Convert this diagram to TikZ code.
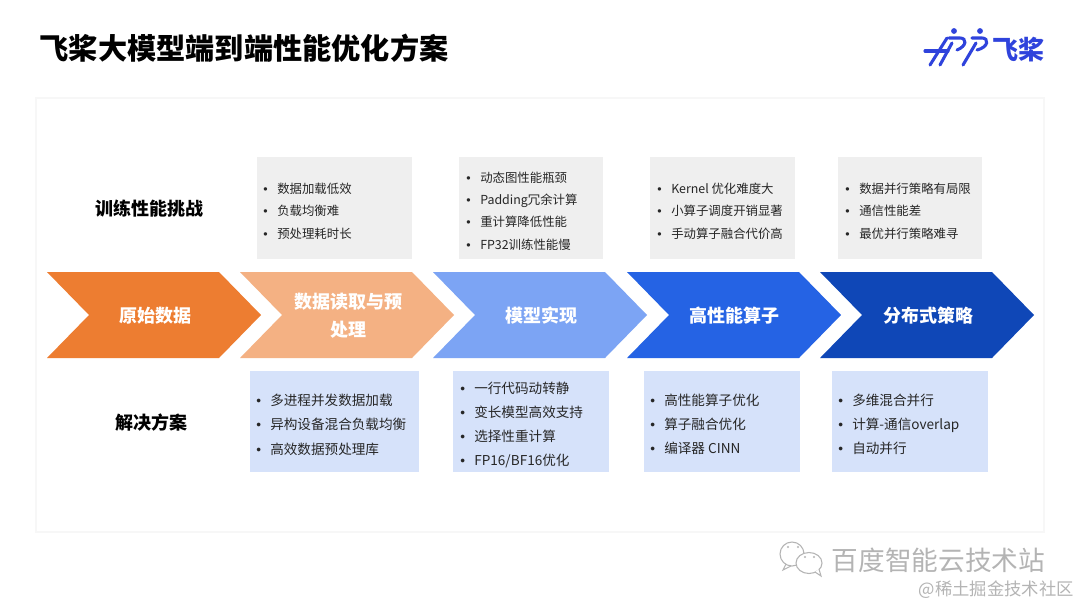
\documentclass[tikz,border=0pt]{standalone}
\usepackage{fontspec}
\setmainfont{Noto Sans CJK SC}
\newfontfamily\blfont{Liberation Sans}
\definecolor{orangeA}{HTML}{ED7D31}
\definecolor{orangeB}{HTML}{F4B183}
\definecolor{blueA}{HTML}{7CA4F4}
\definecolor{blueB}{HTML}{2563E4}
\definecolor{blueC}{HTML}{0F47B7}
\definecolor{boxgray}{HTML}{EFEFEF}
\definecolor{boxblue}{HTML}{D6E2FA}
\definecolor{logoblue}{HTML}{2F43DC}
\definecolor{markgray}{HTML}{B4B4B4}
\newcommand{\bl}[1]{\makebox[10.5pt][l]{\blfont •}#1}
\tikzset{
  panel/.style={fill=white,draw=black!3,line width=1pt},
  topbox/.style={fill=boxgray},
  botbox/.style={fill=boxblue},
  chev/.style={font=\fontsize{13.5}{21}\selectfont\bfseries,text=white,align=center,inner sep=0pt},
  rowlabel/.style={font=\fontsize{13.5}{16}\selectfont\bfseries,inner sep=0pt},
  topitem/.style={anchor=west,inner sep=0pt,font=\fontsize{9.3}{11}\selectfont,text=black!85,text height=8pt,text depth=2pt},
  botitem/.style={anchor=west,inner sep=0pt,font=\fontsize{10.2}{12}\selectfont,text=black!85,text height=8.5pt,text depth=2pt},
  logostroke/.style={draw=logoblue,line width=2.3pt,line cap=round},
  bubble/.style={draw=markgray,line width=0.8pt,fill=white},
}
\begin{document}
\begin{tikzpicture}[x=0.75pt,y=0.75pt,yscale=-1,xscale=1]
\useasboundingbox (0,0) rectangle (1080,607);
\fill[white] (0,0) rectangle (1080,607);
%title
\node[anchor=west,inner sep=0pt,font=\fontsize{21.9}{26}\selectfont\bfseries] (title) at (39.5,48) {飞桨大模型端到端性能优化方案};
%logo
\draw[logostroke] (925,51) -- (948,51);
\draw[logostroke] (947,38) -- (930,65);
\draw[logostroke] (949,38) -- (960,38) .. controls (967,38) and (967,46) .. (957,50);
\draw[logostroke] (952,43) -- (940,65);
\draw[logostroke] (972,38) -- (982,38) .. controls (989,38) and (989,47) .. (977,50);
\draw[logostroke] (976,43) -- (963,65);
\fill[logoblue] (954,31) circle (2.9);
\fill[logoblue] (980,31) circle (2.9);
\node[inner sep=0pt,text=logoblue,font=\fontsize{19.5}{22}\selectfont\bfseries] (logotext) at (1018,50) {飞桨};
%panel
\draw[panel] (36,98) rectangle (1044,532);
%challenge boxes
\fill[topbox] (257,157) rectangle (412,259);
\fill[topbox] (459,157) rectangle (603,259);
\fill[topbox] (650,157) rectangle (795,259);
\fill[topbox] (838,157) rectangle (982,259);
%solution boxes
\fill[botbox] (250,371) rectangle (419,472);
\fill[botbox] (453,371) rectangle (609,472);
\fill[botbox] (644,371) rectangle (800,472);
\fill[botbox] (832,371) rectangle (988,472);
%chevrons
\foreach \x/\c in {47/orangeA,240/orangeB,433/blueA,627/blueB,820/blueC}
  \fill[\c] (\x,272) -- ++(172,0) -- ++(42,43) -- ++(-42,43) -- ++(-172,0) -- ++(42,-43) -- cycle;
\node[chev] (raw) at (155,316) {原始数据};
\node[chev] (read) at (348,316) {数据读取与预\\处理};
\node[chev] (model) at (541,316) {模型实现};
\node[chev] (kernel) at (734,316) {高性能算子};
\node[chev] (dist) at (928,316) {分布式策略};
%row labels
\node[rowlabel] (challenge) at (149,209) {训练性能挑战};
\node[rowlabel] (solution) at (151,423) {解决方案};
%challenge items
\foreach \t [count=\i] in {数据加载低效,负载均衡难,预处理耗时长}
  \node[topitem] (ta\i) at (263,{167+22.4*\i}) {\bl{\t}};
\foreach \t [count=\i] in {动态图性能瓶颈,Padding冗余计算,重计算降低性能,FP32训练性能慢}
  \node[topitem] (tb\i) at (466,{156+22.3*\i}) {\bl{\t}};
\foreach \t [count=\i] in {Kernel 优化难度大,小算子调度开销显著,手动算子融合代价高}
  \node[topitem] (tc\i) at (657,{167+22.4*\i}) {\bl{\t}};
\foreach \t [count=\i] in {数据并行策略有局限,通信性能差,最优并行策略难寻}
  \node[topitem] (td\i) at (845,{167+22.4*\i}) {\bl{\t}};
%solution items
\foreach \t [count=\i] in {多进程并发数据加载,异构设备混合负载均衡,高效数据预处理库}
  \node[botitem] (ba\i) at (256,{376.5+24.5*\i}) {\bl{\t}};
\foreach \t [count=\i] in {一行代码动转静,变长模型高效支持,选择性重计算,FP16/BF16优化}
  \node[botitem] (bb\i) at (460,{365+24*\i}) {\bl{\t}};
\foreach \t [count=\i] in {高性能算子优化,算子融合优化,编译器 CINN}
  \node[botitem] (bc\i) at (650,{377+24.2*\i}) {\bl{\t}};
\foreach \t [count=\i] in {多维混合并行,计算-通信overlap,自动并行}
  \node[botitem] (bd\i) at (838,{377+24.2*\i}) {\bl{\t}};
%watermark
\draw[bubble] (786,564) -- (783,570) -- (791,566);
\draw[bubble] (792,554) ellipse (12 and 12);
\fill[markgray] (788,547) circle (1.2) (798,547) circle (1.2);
\draw[bubble] (809,563) ellipse (13 and 10.5);
\draw[bubble] (815,572) -- (821,576) -- (819,569);
\fill[markgray] (805,557) circle (1.2) (814,557) circle (1.2);
\node[inner sep=0pt,text=markgray,font=\fontsize{20}{24}\selectfont] (wmark) at (938.5,560) {百度智能云技术站};
\node[anchor=east,inner sep=0pt,text=markgray,font=\fontsize{13}{16}\selectfont] (site) at (1074,590) {@稀土掘金技术社区};
\end{tikzpicture}
\end{document}
